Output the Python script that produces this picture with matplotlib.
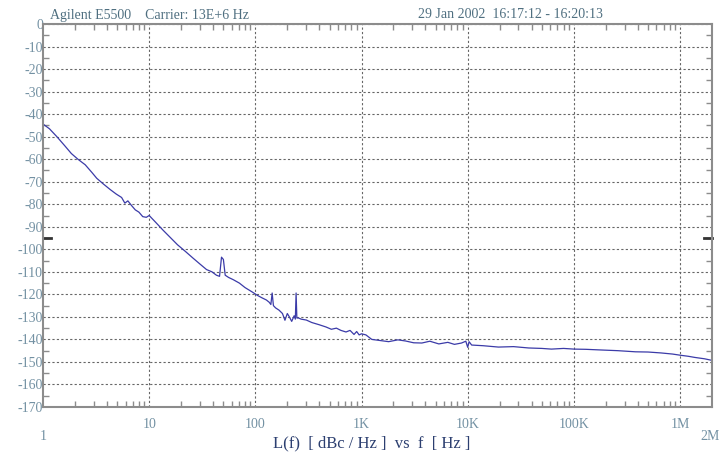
import numpy as np
import matplotlib.pyplot as plt
import matplotlib.transforms as mtransforms

# Phase noise trace
freq = [1.0, 1.15, 1.35, 1.6, 1.85, 2.13, 2.5, 2.9, 3.21, 3.7, 4.3, 4.9, 5.5, 5.9,
        6.3, 6.8, 7.4, 8.0, 8.7, 9.4, 10.0, 11.5, 13.5, 16.0, 18.5, 22.0, 26.0,
        30.0, 34.7, 39.0, 43.0, 46.0, 48.0, 50.0, 52.0, 56.0, 62.0, 70.7, 80.0,
        93.8, 105.0, 115.0, 127.0, 135.0, 140.0, 144.0, 148.0, 155.0, 167.0,
        180.0, 190.0, 200.0, 209.0, 220.0, 232.0, 238.0, 242.0, 246.0, 255.0,
        270.0, 302.0, 340.0, 400.0, 464.0, 520.0, 580.0, 640.0, 714.0, 780.0,
        850.0, 900.0, 950.0, 1000.0, 1100.0, 1250.0, 1500.0, 1800.0, 2200.0,
        2600.0, 3100.0, 3700.0, 4400.0, 5350.0, 6500.0, 7500.0, 8750.0, 9600.0,
        10000.0, 10300.0, 10900.0, 14000.0, 19500.0, 27000.0, 37500.0, 50000.0,
        61500.0, 80000.0, 100000.0, 130000.0, 182000.0, 260000.0, 380000.0,
        500000.0, 660000.0, 850000.0, 1000000.0, 1200000.0, 1380000.0,
        1700000.0, 2000000.0]
level = [-44.4, -46.5, -50.0, -54.0, -57.5, -60.0, -62.5, -66.0, -68.5, -71.0,
         -73.5, -75.5, -77.0, -79.5, -78.5, -80.5, -82.5, -83.5, -85.5, -85.8,
         -85.0, -88.0, -91.5, -95.0, -98.0, -101.0, -104.0, -106.5, -109.0,
         -110.0, -111.5, -112.0, -103.5, -104.5, -111.5, -112.5, -113.5, -115.0,
         -117.0, -119.0, -120.5, -121.5, -122.5, -123.5, -124.5, -119.4, -125.0,
         -126.0, -127.0, -128.5, -131.5, -128.5, -130.0, -132.0, -129.5, -131.0,
         -119.4, -130.5, -130.5, -131.0, -131.4, -132.5, -133.5, -134.5, -135.5,
         -135.0, -136.0, -136.7, -136.0, -137.8, -136.5, -138.0, -137.5, -138.0,
         -140.0, -140.5, -141.0, -140.2, -140.7, -141.5, -141.6, -140.8, -142.0,
         -141.3, -142.2, -141.6, -140.8, -143.5, -141.0, -142.5, -142.8, -143.4,
         -143.2, -143.8, -144.0, -144.3, -144.0, -144.3, -144.4, -144.7, -145.0,
         -145.5, -145.6, -146.0, -146.5, -147.0, -147.5, -148.0, -148.6, -149.3]

xticks = [10, 100, 1e3, 1e4, 1e5, 1e6]
xticklabels = ['10', '100', '1K', '10K', '100K', '1M']
yticks = list(range(0, -171, -10))

serif = ['Liberation Serif', 'DejaVu Serif']
label_col = '#7391a3'
grid_col = '#666666'
frame_col = '#8c8c8c'

fig = plt.figure(figsize=(7.2, 4.57), dpi=100)
ax = fig.add_axes([43 / 720, 1 - 407 / 457, 669 / 720, 383 / 457])

ax.plot(freq, level, color='#3b3ba8', lw=0.9)

ax.set_xscale('log')
ax.set_xlim(1, 2e6)
ax.set_ylim(-170, 0)

ax.set_xticks(xticks)
ax.set_xticklabels(xticklabels)
ax.set_xticks([m * 10 ** d for d in range(0, 7) for m in range(2, 10) if m * 10 ** d < 2e6],
              minor=True)
ax.xaxis.set_minor_formatter(plt.NullFormatter())
ax.set_yticks(yticks)
ax.set_yticklabels([str(v) for v in yticks])
ax.set_yticks(list(range(-5, -170, -10)), minor=True)

ax.tick_params(axis='both', which='both', direction='in', top=True, right=True,
               color=frame_col, width=1.0)
ax.tick_params(axis='both', which='major', length=0)
ax.tick_params(axis='both', which='minor', length=4)
ax.tick_params(axis='y', which='major', pad=0)
ax.tick_params(axis='x', which='major', pad=8)
for lab in ax.get_xticklabels() + ax.get_yticklabels():
    lab.set_fontfamily(serif)
    lab.set_fontsize(10)
    lab.set_color(label_col)

ax.grid(True, which='major', color=grid_col, linestyle=(0, (2, 2)), lw=0.8)
for sp in ax.spines.values():
    sp.set_color(frame_col)
    sp.set_linewidth(1.5)

# heavier marks at -95 on both sides
trans = mtransforms.blended_transform_factory(ax.transAxes, ax.transData)
ax.plot([0, 0.012], [-95, -95], transform=trans, color='#333333', lw=2, clip_on=False)
ax.plot([0.988, 1], [-95, -95], transform=trans, color='#333333', lw=2, clip_on=False)

# end labels sit lower than the decade labels
xtrans = mtransforms.blended_transform_factory(ax.transData, fig.transFigure)
ax.text(1, 1 - 437 / 457, '1', transform=xtrans, ha='center', va='center',
        family=serif, fontsize=10, color=label_col)
fig.text(700 / 720, 1 - 436 / 457, '2M', ha='left', va='center',
         family=serif, fontsize=10, color=label_col)

fig.text(372 / 720, 1 - 443 / 457, 'L(f)  [ dBc / Hz ]  vs  f  [ Hz ]', ha='center',
         va='center', family=serif, fontsize=12, color='#2c3f70')
fig.text(50 / 720, 1 - 15 / 457, 'Agilent E5500    Carrier: 13E+6 Hz', ha='left',
         va='center', family=serif, fontsize=10, color='#4f6f80')
fig.text(418 / 720, 1 - 15 / 457, '29 Jan 2002  16:17:12 - 16:20:13', ha='left',
         va='center', family=serif, fontsize=10, color='#4f6f80')

fig.savefig('out.png', dpi=100)
